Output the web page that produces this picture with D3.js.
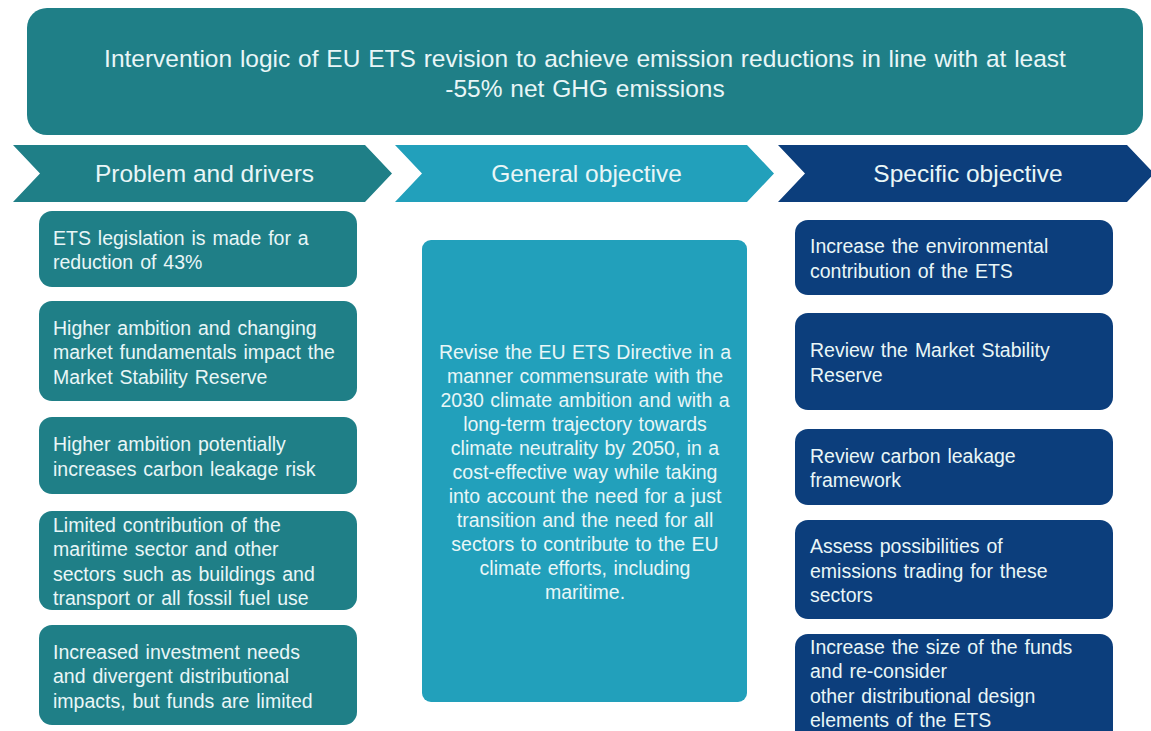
<!DOCTYPE html>
<html lang="en">
<head>
<meta charset="UTF-8">
<title>Intervention logic of EU ETS revision</title>
<script src="https://d3js.org/d3.v7.min.js"></script>
<style>
  * { margin: 0; padding: 0; }
  body { background: #fff; }
  text { font-family: "Liberation Sans", Arial, sans-serif; fill: #e9f6f7; }
</style>
</head>
<body>
<script>
  var width = 1151, height = 731;

  // ---- data (texts) ----
  var titleLines = [
    'Intervention logic of EU ETS revision to achieve emission reductions in line with at least',
    '-55%  net GHG emissions'
  ];
  var headers = ['Problem and drivers', 'General objective', 'Specific objective'];
  var problems = [
    ['ETS legislation is made for a', 'reduction of 43%'],
    ['Higher ambition and changing', 'market fundamentals impact the', 'Market Stability Reserve'],
    ['Higher ambition potentially', 'increases carbon leakage risk'],
    ['Limited contribution of the', 'maritime sector and other', 'sectors such as buildings and', 'transport or all fossil fuel use'],
    ['Increased investment needs', 'and divergent  distributional', 'impacts, but funds are limited']
  ];
  var general = [
    'Revise the EU ETS Directive in a',
    'manner commensurate with the',
    '2030 climate ambition and with a',
    'long-term trajectory towards',
    'climate neutrality by 2050, in a',
    'cost-effective way while taking',
    'into account the need for a just',
    'transition and the need for all',
    'sectors to contribute to the EU',
    'climate efforts, including',
    'maritime.'
  ];
  var specifics = [
    ['Increase the environmental', 'contribution  of the ETS'],
    ['Review the Market Stability', 'Reserve'],
    ['Review carbon leakage', 'framework'],
    ['Assess possibilities of', 'emissions trading for these', 'sectors'],
    ['Increase the size of the funds', 'and re-consider', 'other distributional design', 'elements of the ETS']
  ];

  // ---- layout (positions, kept apart from the texts) ----
  var colors = ['#1f7f87', '#22a0bb', '#0c3e7c'];
  var leftTops = [211, 301, 417, 511, 625], leftBottoms = [287, 401, 494, 610, 725];
  var rightTops = [220, 313, 429, 520, 634], rightBottoms = [295, 410, 505, 619, 745];
  var lineGap = 24.5;

  var svg = d3.select('body').append('svg')
    .attr('width', width)
    .attr('height', height);

  // title box
  svg.append('rect')
    .attr('x', 27).attr('y', 8)
    .attr('width', 1116).attr('height', 127)
    .attr('rx', 20)
    .attr('fill', colors[0]);

  svg.selectAll('.title')
    .data(titleLines)
    .enter()
    .append('text')
    .attr('class', 'title')
    .attr('x', 585)
    .attr('y', function (d, i) { return 67 + i * 30; })
    .attr('text-anchor', 'middle')
    .style('font-size', '24.5px')
    .style('word-spacing', '1px')
    .text(function (d) { return d; });

  // chevrons
  var chevX = [[13, 365], [395, 747], [778, 1127]];
  var chevTop = 145, chevBot = 202, tip = 27;
  var chevs = svg.selectAll('.chev')
    .data(headers)
    .enter()
    .append('g')
    .attr('class', 'chev');

  chevs.append('path')
    .attr('fill', function (d, i) { return colors[i]; })
    .attr('d', function (d, i) {
      var x0 = chevX[i][0], x1 = chevX[i][1], mid = (chevTop + chevBot) / 2;
      return d3.line()([[x0, chevTop], [x1, chevTop], [x1 + tip, mid], [x1, chevBot],
        [x0, chevBot], [x0 + tip, mid]]) + 'Z';
    });

  chevs.append('text')
    .attr('x', function (d, i) { return (chevX[i][0] + chevX[i][1] + tip) / 2 + 2; })
    .attr('y', 182)
    .attr('text-anchor', 'middle')
    .style('font-size', '24.5px')
    .text(function (d) { return d; });

  // box drawing helper
  function drawBoxes(cls, items, x, w, tops, bottoms, color, textX) {
    var g = svg.selectAll('.' + cls)
      .data(items)
      .enter()
      .append('g')
      .attr('class', cls);

    g.append('rect')
      .attr('x', x)
      .attr('y', function (d, i) { return tops[i]; })
      .attr('width', w)
      .attr('height', function (d, i) { return bottoms[i] - tops[i]; })
      .attr('rx', 13)
      .attr('fill', color);

    g.each(function (lines, i) {
      var mid = (tops[i] + Math.min(bottoms[i], 731)) / 2 + 1;
      var start = mid - (lines.length - 1) * lineGap / 2;
      d3.select(this).selectAll('text')
        .data(lines)
        .enter()
        .append('text')
        .attr('x', textX)
        .attr('y', function (d, j) { return start + j * lineGap + 7; })
        .style('font-size', '19.5px')
        .style('word-spacing', '1.5px')
        .text(function (d) { return d; });
    });
  }

  drawBoxes('prob', problems, 39, 318, leftTops, leftBottoms, colors[0], 53);
  drawBoxes('spec', specifics, 795, 318, rightTops, rightBottoms, colors[2], 810);

  // general objective box
  svg.append('rect')
    .attr('x', 422).attr('y', 240)
    .attr('width', 325).attr('height', 462)
    .attr('rx', 9)
    .attr('fill', colors[1]);

  svg.selectAll('.gen')
    .data(general)
    .enter()
    .append('text')
    .attr('class', 'gen')
    .attr('x', 585)
    .attr('y', function (d, i) { return 359 + i * 24; })
    .attr('text-anchor', 'middle')
    .style('font-size', '19.5px')
    .style('word-spacing', '1px')
    .text(function (d) { return d; });
</script>
</body>
</html>
